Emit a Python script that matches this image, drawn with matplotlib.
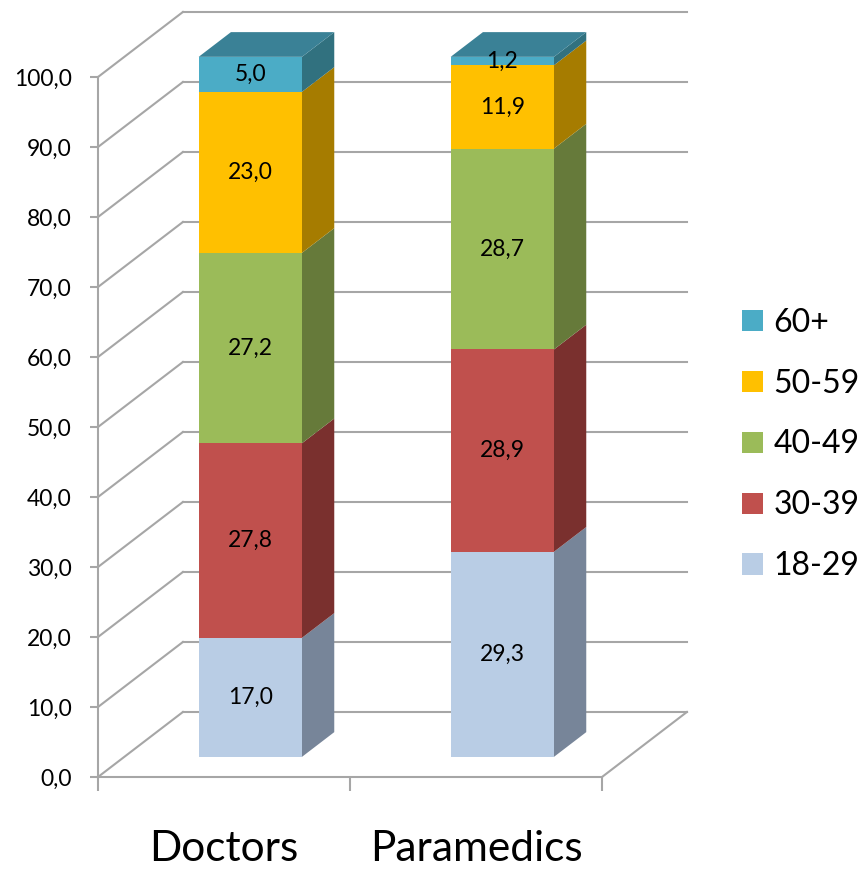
import matplotlib
matplotlib.use("Agg")
import matplotlib.pyplot as plt
from matplotlib.patches import Polygon, Patch

plt.rcParams['font.family'] = ['Lato', 'DejaVu Sans']

groups = ['Doctors', 'Paramedics']
ages = ['18-29', '30-39', '40-49', '50-59', '60+']
doctors = [17.0, 27.8, 27.2, 23.0, 5.0]
paramedics = [29.3, 28.9, 28.7, 11.9, 1.2]
yticks = [0, 10, 20, 30, 40, 50, 60, 70, 80, 90, 100]

front_colors = ['#B9CDE5', '#C0504D', '#9BBB59', '#FFC000', '#4BACC6']
side_colors = ['#778599', '#7A302E', '#667A3A', '#A67C00', '#31717F']
top_color = '#3A8196'
grid_color = '#A6A6A6'

# fake 3d: full depth of the box in data units
DX = 0.337
DY = 9.29
front_depth = 0.31
bar_depth = 0.38
bar_w = 0.41

fig = plt.figure(figsize=(8.62, 8.69), dpi=100)
ax = fig.add_axes([98 / 862, 92 / 869, 504 / 862, 700 / 869])
ax.set_xlim(0, 2)
ax.set_ylim(0, 100)

# walls and floor
for v in yticks:
    ax.plot([0, DX], [v, v + DY], color=grid_color, lw=1.5, clip_on=False, zorder=1)
    ax.plot([DX, 2 + DX], [v + DY, v + DY], color=grid_color, lw=1.5, clip_on=False, zorder=1)
ax.plot([2, 2 + DX], [0, DY], color=grid_color, lw=1.5, clip_on=False, zorder=1)

fx = front_depth * DX
fy = front_depth * DY
bx = bar_depth * DX
by = bar_depth * DY

for gi, vals in enumerate([doctors, paramedics]):
    xc = gi + 0.5 + fx
    x0 = xc - bar_w / 2
    x1 = xc + bar_w / 2
    bottom = fy
    for si, v in enumerate(vals):
        ax.bar(xc, v, width=bar_w, bottom=bottom, color=front_colors[si],
               clip_on=False, zorder=3, linewidth=0)
        side = Polygon([(x1, bottom), (x1 + bx, bottom + by),
                        (x1 + bx, bottom + v + by), (x1, bottom + v)],
                       closed=True, facecolor=side_colors[si], edgecolor='none',
                       clip_on=False, zorder=2)
        ax.add_patch(side)
        ax.text(xc, bottom + v / 2, '{:.1f}'.format(v).replace('.', ','),
                ha='center', va='center', fontsize=16.5, zorder=5)
        bottom += v
    top = Polygon([(x0, bottom), (x1, bottom), (x1 + bx, bottom + by), (x0 + bx, bottom + by)],
                  closed=True, facecolor=top_color, edgecolor='none', clip_on=False, zorder=2)
    ax.add_patch(top)

# front axes
for s in ['top', 'right']:
    ax.spines[s].set_visible(False)
for s in ['left', 'bottom']:
    ax.spines[s].set_color(grid_color)
    ax.spines[s].set_linewidth(1.5)
    ax.spines[s].set_zorder(1)

ax.set_yticks(yticks)
ax.set_yticklabels(['{:.1f}'.format(t).replace('.', ',') for t in yticks], fontsize=16.5)
ax.tick_params(axis='y', length=6, width=1.5, color=grid_color, pad=13)

ax.set_xticks([0, 1, 2])
ax.set_xticklabels(['', '', ''])
ax.tick_params(axis='x', which='major', length=10, width=1.5, color=grid_color)
ax.set_xticks([0.5, 1.5], minor=True)
ax.set_xticklabels(groups, minor=True, fontsize=30.5)
ax.tick_params(axis='x', which='minor', length=0, pad=38)

handles = [Patch(facecolor=front_colors[i], edgecolor='none') for i in range(4, -1, -1)]
fig.legend(handles, ages[::-1], loc='center left', bbox_to_anchor=(742 / 862, 0.4885),
           frameon=False, fontsize=23, handlelength=0.66, handleheight=0.66,
           handletextpad=0.32, labelspacing=0.97, borderpad=0, borderaxespad=0)

fig.savefig('out.png', dpi=100)
